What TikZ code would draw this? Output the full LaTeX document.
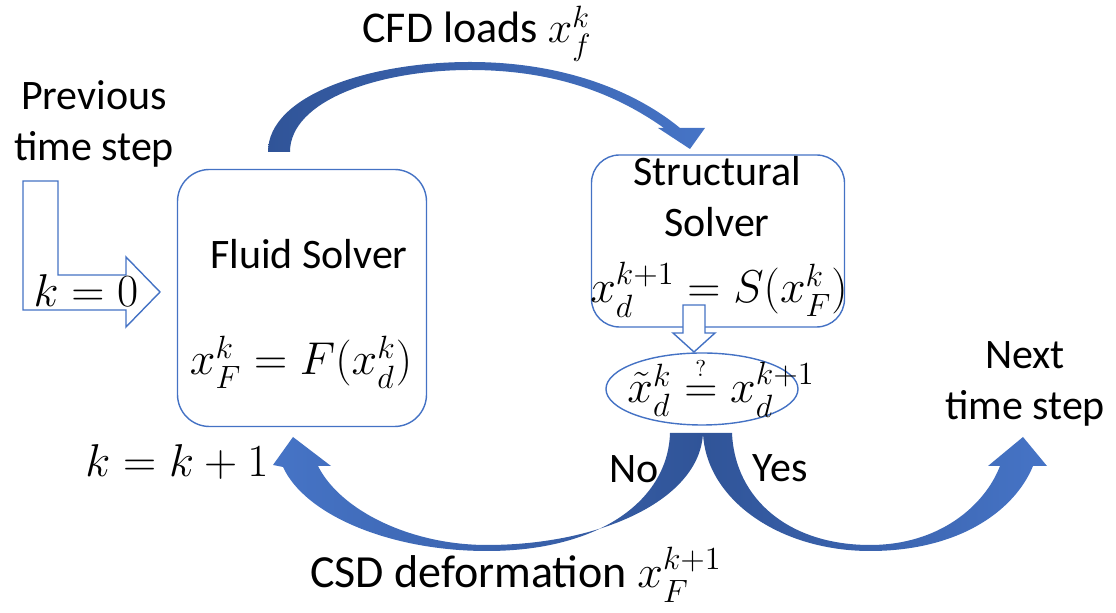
\RequirePackage{fix-cm}
\documentclass[tikz,border=0pt]{standalone}
\usepackage{amsmath}
\usepackage{fontspec}
\setmainfont{Carlito}
\usetikzlibrary{shapes.geometric,positioning}

\definecolor{boxblue}{RGB}{68,114,196}
\definecolor{arrowdark}{RGB}{48,84,152}
\definecolor{arrowlight}{RGB}{70,116,198}

\begin{document}
\begin{tikzpicture}[x=0.5pt,y=-0.5pt,font=\fontsize{21}{25.5}\selectfont,
  solver/.style={draw=boxblue,line width=0.7pt,rounded corners=16pt},
  test/.style={ellipse,draw=boxblue,line width=0.7pt,inner sep=0pt},
  hollow/.style={draw=boxblue,line width=0.7pt,fill=white,line join=miter},
  lbl/.style={anchor=base},
  eqn/.style={anchor=base,font=\fontsize{23}{27}\selectfont}]
  \useasboundingbox (0,0) rectangle (1116,613);

  % solvers and convergence test
  \node[solver,minimum width=124.5pt,minimum height=128.5pt] (fluid) at (302,298) {};
  \node[solver,minimum width=126.5pt,minimum height=86pt,rounded corners=14pt] (struct) at (718,241) {};
  \node[test,minimum width=96pt,minimum height=36pt] (check) at (702,389) {};

  % hollow arrows
  \path[hollow] (23,181) -- (58,181) -- (58,275) -- (126,275) -- (126,257)
    -- (160,292) -- (126,327) -- (126,310) -- (23,310) -- cycle;
  \path[hollow] (683,305) -- (705,305) -- (705,333) -- (715,333) -- (694,352)
    -- (673,333) -- (683,333) -- cycle;

  % thick curved arrows
  \path[left color=arrowdark,right color=arrowlight]
    (268,152) .. controls (268,95) and (370,62) .. (470,62)
    .. controls (570,62) and (640,95) .. (680,128)
    -- (705,128) -- (690,149) -- (658,128) -- (664,128)
    .. controls (620,97) and (560,70) .. (470,70)
    .. controls (380,70) and (290,100) .. (290,152) -- cycle;
  \path[left color=arrowlight,right color=arrowdark]
    (703,433) .. controls (700,500) and (600,545) .. (487,545)
    .. controls (410,545) and (340,510) .. (318,466)
    -- (331,466) -- (293,437) -- (273,465) -- (283,467)
    .. controls (305,515) and (390,551) .. (487,551)
    .. controls (600,551) and (668,500) .. (670,433) -- cycle;
  \path[left color=arrowdark,right color=arrowlight]
    (703,433) .. controls (706,500) and (780,551) .. (870,551)
    .. controls (960,551) and (1015,510) .. (1033,466)
    -- (1047,466) -- (1023,437) -- (988,466) -- (1000,466)
    .. controls (985,505) and (940,545) .. (870,545)
    .. controls (790,545) and (735,500) .. (732,433) -- cycle;

  % texts
  \node[align=center] (prev) at (94,124) {Previous\\time step};
  \node[align=center] (next) at (1025,384) {Next\\time step};
  \node[eqn] (kzero) at (86,307) {$k=0$};
  \node[lbl] (fluidname) at (309,269) {Fluid Solver};
  \node[eqn] (fluideq) at (301,375) {$x_F^k = F(x_d^k)$};
  \node[align=center] (structname) at (717,197) {Structural\\Solver};
  \node[eqn] (structeq) at (719,303) {$x_d^{k+1} = S(x_F^k)$};
  \node[eqn] (checkeq) at (721,403) {$\tilde{x}_d^k \mathrel{\overset{\scriptscriptstyle ?}{=}} x_d^{k+1}$};
  \node[lbl,font=\fontsize{22}{26}\selectfont] (cfd) at (477,43) {CFD loads $x_f^k$};
  \node[eqn] (kinc) at (177,477) {$k=k+1$};
  \node[lbl] (no) at (634,483) {No};
  \node[lbl] (yes) at (780,482) {Yes};
  \node[lbl,font=\fontsize{23}{27}\selectfont] (csd) at (516,588) {CSD deformation $x_F^{k+1}$};
\end{tikzpicture}
\end{document}
